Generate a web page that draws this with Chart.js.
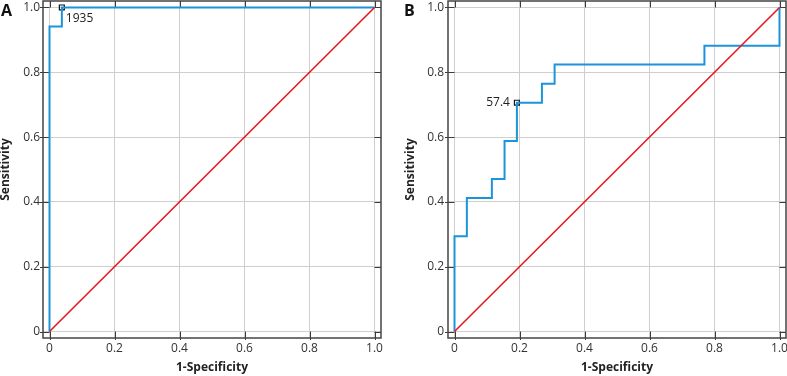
<!DOCTYPE html>
<html>
<head>
<meta charset="utf-8">
<script src="https://cdn.jsdelivr.net/npm/chart.js@4.4.0/dist/chart.umd.min.js"></script>
<style>
  html, body { margin: 0; padding: 0; background: #fff; }
  body { width: 787px; height: 376px; position: relative; overflow: hidden; }
  .panel { position: absolute; top: 0; height: 376px; }
  #panelA { left: 0; width: 400px; }
  #panelB { left: 400px; width: 387px; }
</style>
</head>
<body>
<div class="panel" id="panelA"><canvas id="rocA"></canvas></div>
<div class="panel" id="panelB"><canvas id="rocB"></canvas></div>
<script>
// Shared axis ticks (both axes use the same 0..1 scale)
const tickValues = [0, 0.2, 0.4, 0.6, 0.8, 1.0];
const tickLabels = ['0', '0.2', '0.4', '0.6', '0.8', '1.0'];
const refX = [0, 1];
const refY = [0, 1];

// Panel A: ROC operating points (1-specificity, sensitivity)
const rocA_fpr = [0, 0, 0.038, 1.0];
const rocA_tpr = [0, 0.941, 1.0, 1.0];
const cutA = ['1935', 0.038, 1.0];

// Panel B
const rocB_fpr = [0, 0, 0.038, 0.115, 0.154, 0.192, 0.269, 0.308, 0.769, 1.0];
const rocB_tpr = [0, 0.294, 0.412, 0.471, 0.588, 0.706, 0.765, 0.824, 0.882, 1.0];
const cutB = ['57.4', 0.192, 0.706];

const FONT = "'Open Sans', 'Noto Sans', sans-serif";
const BLUE = 'rgb(28, 148, 218)';
const RED = 'rgb(232, 22, 30)';

// Outer box, dark tick marks in the margin zone, panel letter, cut-off label
const framePlugin = {
  id: 'frame',
  beforeDatasetsDraw(chart, args, opts) {
    const { ctx, chartArea: a, scales: { x, y } } = chart;
    ctx.save();
    ctx.strokeStyle = '#3a3a3a';
    ctx.lineWidth = 1;
    ctx.beginPath();
    tickValues.forEach(v => {
      const px = Math.round(x.getPixelForValue(v)) + 0.5;
      const py = Math.round(y.getPixelForValue(v)) + 0.5;
      ctx.moveTo(px, a.bottom + 2); ctx.lineTo(px, y.getPixelForValue(0));
      ctx.moveTo(px, a.top); ctx.lineTo(px, y.getPixelForValue(1));
      ctx.moveTo(a.left - 3, py); ctx.lineTo(x.getPixelForValue(0), py);
      ctx.moveTo(a.right, py); ctx.lineTo(x.getPixelForValue(1), py);
    });
    ctx.stroke();
    ctx.lineWidth = 1.5;
    ctx.strokeStyle = '#444';
    ctx.strokeRect(a.left, a.top, a.right - a.left, a.bottom - a.top);
    ctx.restore();
  },
  afterDraw(chart, args, opts) {
    const { ctx, scales: { x, y } } = chart;
    ctx.save();
    ctx.fillStyle = '#111';
    ctx.font = 'bold 16px ' + FONT;
    ctx.textBaseline = 'alphabetic';
    ctx.textAlign = 'left';
    ctx.fillText(opts.letter, opts.letterX, 16);
    const [txt, cx, cy] = opts.cut;
    const px = x.getPixelForValue(cx);
    const py = y.getPixelForValue(cy);
    ctx.font = '12px ' + FONT;
    ctx.fillStyle = '#222';
    if (opts.cutSide === 'right') {
      ctx.textAlign = 'left';
      ctx.textBaseline = 'middle';
      ctx.fillText(txt, px + 4, py + 11);
    } else {
      ctx.textAlign = 'right';
      ctx.textBaseline = 'middle';
      ctx.fillText(txt, px - 7, py);
    }
    ctx.restore();
  }
};

function makeRoc(id, fpr, tpr, cut, cfg) {
  const ctx = document.getElementById(id).getContext('2d');
  const axis = (isX) => ({
    type: 'linear',
    position: isX ? 'bottom' : 'left',
    min: -0.02,
    max: 1.02,
    afterBuildTicks: s => { s.ticks = tickValues.map(v => ({ value: v })); },
    afterFit: s => {
      if (isX) { s.height = 38; s.paddingLeft = 0; s.paddingRight = 0; }
      else { s.width = cfg.yWidth; s.paddingTop = 0; s.paddingBottom = 0; }
    },
    grid: { color: '#cfcfcf', lineWidth: 1, drawTicks: false },
    border: { display: false },
    ticks: {
      padding: isX ? 3 : cfg.yPad,
      color: '#333',
      font: { family: FONT, size: 12 },
      callback: (v, i) => tickLabels[i]
    },
    title: {
      display: true,
      text: isX ? '1-Specificity' : 'Sensitivity',
      color: '#222',
      font: { family: FONT, size: 12, weight: 'bold' },
      padding: isX ? { top: 0, bottom: 1 } : { top: cfg.titlePad, bottom: 0 }
    }
  });

  return new Chart(ctx, {
    type: 'scatter',
    data: {
      datasets: [
        {
          label: 'Reference',
          data: refX.map((v, i) => ({ x: v, y: refY[i] })),
          showLine: true,
          borderColor: RED,
          borderWidth: 1.6,
          pointRadius: 0
        },
        {
          label: 'ROC',
          data: fpr.map((v, i) => ({ x: v, y: tpr[i] })),
          showLine: true,
          stepped: 'before',
          borderColor: BLUE,
          borderWidth: 2,
          pointRadius: 0
        },
        {
          label: 'Criterion',
          data: [{ x: cut[1], y: cut[2] }],
          pointStyle: 'rect',
          pointRadius: 3.5,
          borderColor: '#111',
          borderWidth: 1.2,
          backgroundColor: 'rgba(0,0,0,0)'
        }
      ]
    },
    options: {
      responsive: true,
      maintainAspectRatio: false,
      animation: false,
      layout: { autoPadding: false, padding: { top: 1, right: cfg.padRight, left: 0, bottom: 0 } },
      plugins: {
        legend: { display: false },
        tooltip: { enabled: false },
        frame: { letter: cfg.letter, letterX: cfg.letterX, cut: cut, cutSide: cfg.cutSide }
      },
      scales: { x: axis(true), y: axis(false) }
    },
    plugins: [framePlugin]
  });
}

makeRoc('rocA', rocA_fpr, rocA_tpr, cutA,
  { letter: 'A', letterX: 1, yWidth: 43, yPad: 3, titlePad: -2, padRight: 19, cutSide: 'right' });
makeRoc('rocB', rocB_fpr, rocB_tpr, cutB,
  { letter: 'B', letterX: 4, yWidth: 48, yPad: 4, titlePad: 3, padRight: 1, cutSide: 'left' });
</script>
</body>
</html>
